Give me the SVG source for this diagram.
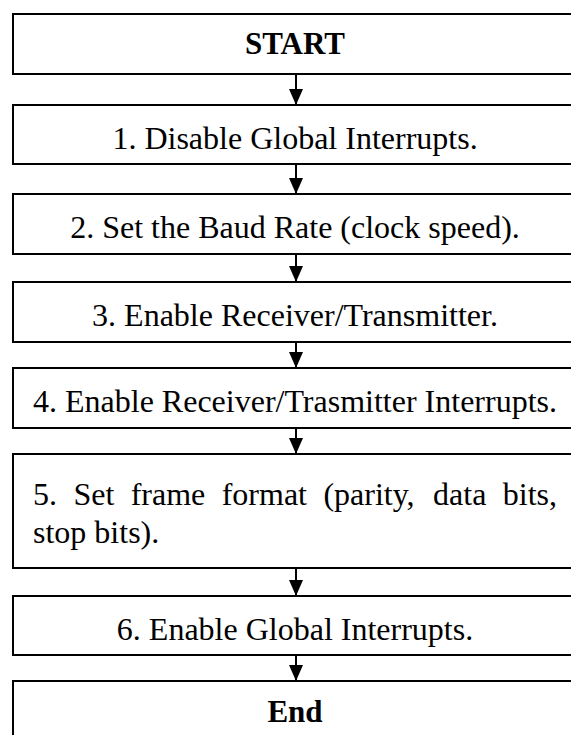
<svg xmlns="http://www.w3.org/2000/svg" width="571" height="735" viewBox="0 0 571 735">
  <style>
    .box { fill: #ffffff; stroke: #000000; stroke-width: 2; }
    .label { font-family: "Liberation Serif", "Times New Roman", serif; font-size: 32px; fill: #000000; }
    .center { text-anchor: middle; }
    .bold { font-weight: bold; font-size: 31px; }
    .shaft { stroke: #000000; stroke-width: 2; fill: none; }
  </style>
  <defs>
    <!-- arrowhead drawn along +x so orient="auto" points it down each shaft -->
    <marker id="head" markerWidth="16" markerHeight="14" refX="16" refY="7" orient="auto" markerUnits="userSpaceOnUse" viewBox="0 0 16 14">
      <path d="M0,0 L16,7 L0,14 Z" fill="#000000"/>
    </marker>
  </defs>
  <rect width="571" height="735" fill="#ffffff"/>

  <g id="start">
    <rect class="box" x="13" y="14" width="580" height="60"/>
    <text class="label bold center" x="295" y="54">START</text>
  </g>
  <g id="step1">
    <rect class="box" x="13" y="105" width="580" height="59"/>
    <text class="label center" x="295" y="149">1. Disable Global Interrupts.</text>
  </g>
  <g id="step2">
    <rect class="box" x="13" y="194" width="580" height="60"/>
    <text class="label center" x="295" y="238">2. Set the Baud Rate (clock speed).</text>
  </g>
  <g id="step3">
    <rect class="box" x="13" y="282" width="580" height="60"/>
    <text class="label center" x="295" y="326">3. Enable Receiver/Transmitter.</text>
  </g>
  <g id="step4">
    <rect class="box" x="13" y="368" width="580" height="60"/>
    <text class="label center" x="295" y="412">4. Enable Receiver/Trasmitter Interrupts.</text>
  </g>
  <g id="step5">
    <rect class="box" x="13" y="454" width="580" height="114"/>
    <text class="label" y="505"><tspan x="33">5.</tspan><tspan x="73.4">Set</tspan><tspan x="130.7">frame</tspan><tspan x="221.7">format</tspan><tspan x="323.4">(parity,</tspan><tspan x="433.1">data</tspan><tspan x="502.8">bits,</tspan></text>
    <text class="label" x="33" y="543">stop bits).</text>
  </g>
  <g id="step6">
    <rect class="box" x="13" y="596" width="580" height="59"/>
    <text class="label center" x="295" y="640">6. Enable Global Interrupts.</text>
  </g>
  <g id="end">
    <rect class="box" x="13" y="681" width="580" height="80"/>
    <text class="label bold center" x="295" y="722">End</text>
  </g>

  <g id="connectors">
    <line class="shaft" x1="296" y1="74" x2="296" y2="105" marker-end="url(#head)"/>
    <line class="shaft" x1="296" y1="164" x2="296" y2="194" marker-end="url(#head)"/>
    <line class="shaft" x1="296" y1="254" x2="296" y2="282" marker-end="url(#head)"/>
    <line class="shaft" x1="296" y1="342" x2="296" y2="368" marker-end="url(#head)"/>
    <line class="shaft" x1="296" y1="428" x2="296" y2="454" marker-end="url(#head)"/>
    <line class="shaft" x1="296" y1="568" x2="296" y2="596" marker-end="url(#head)"/>
    <line class="shaft" x1="296" y1="655" x2="296" y2="681" marker-end="url(#head)"/>
  </g>
</svg>
